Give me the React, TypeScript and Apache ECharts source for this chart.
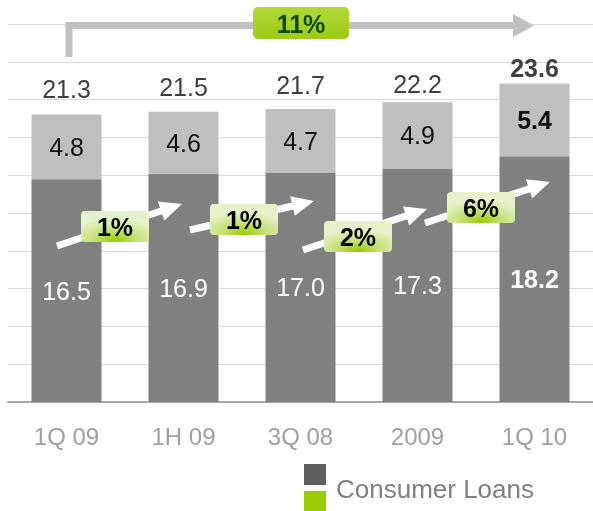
import React, { useEffect, useRef } from "react";
import * as echarts from "echarts";

const categories = ["1Q 09", "1H 09", "3Q 08", "2009", "1Q 10"];
const consumerBase = [16.5, 16.9, 17.0, 17.3, 18.2];
const consumerTop = [4.8, 4.6, 4.7, 4.9, 5.4];
const totals = [21.3, 21.5, 21.7, 22.2, 23.6];
const totalLabelGap = [13, 12, 12, 6, 3];
const growthLabels = ["1%", "1%", "2%", "6%"];
const overallGrowth = "11%";
const legendName = "Consumer Loans";

const FONT = "'Liberation Sans', Arial, sans-serif";

function arrowPoints(t: number[], p: number[]) {
  const dx = p[0] - t[0];
  const dy = p[1] - t[1];
  const len = Math.sqrt(dx * dx + dy * dy);
  const ux = dx / len;
  const uy = dy / len;
  const nx = -uy;
  const ny = ux;
  const w = 3.5;
  const H = 10;
  const L = 22;
  const nk = [p[0] - ux * L, p[1] - uy * L];
  return [
    [t[0] + nx * w, t[1] + ny * w],
    [nk[0] + nx * w, nk[1] + ny * w],
    [nk[0] + nx * H, nk[1] + ny * H],
    [p[0], p[1]],
    [nk[0] - nx * H, nk[1] - ny * H],
    [nk[0] - nx * w, nk[1] - ny * w],
    [t[0] - nx * w, t[1] - ny * w],
  ];
}

const arrowGeom = [
  { t: [57, 246], p: [182, 204], box: [81, 211] },
  { t: [190, 230], p: [314, 201], box: [210, 204] },
  { t: [303, 250], p: [427, 209], box: [324, 221] },
  { t: [425, 223], p: [550, 182], box: [447, 192] },
];

export default function App() {
  const ref = useRef<HTMLDivElement>(null);
  useEffect(() => {
    if (!ref.current) return;
    const chart = echarts.init(ref.current, null, { renderer: "svg" });
    const last = categories.length - 1;

    const graphics: any[] = [];
    graphics.push({
      type: "polyline",
      z: 10,
      shape: { points: [[69, 57], [69, 25.5], [515, 25.5]] },
      style: { stroke: "#c0c0c0", lineWidth: 7, fill: null, lineJoin: "miter" },
    });
    graphics.push({
      type: "polygon",
      z: 10,
      shape: { points: [[513, 14], [534, 25.5], [513, 37]] },
      style: { fill: "#c0c0c0" },
    });
    graphics.push({
      type: "rect",
      z: 11,
      shape: { x: 253, y: 7, width: 96, height: 32, r: 5 },
      style: {
        fill: {
          type: "linear", x: 0, y: 0, x2: 0, y2: 1,
          colorStops: [
            { offset: 0, color: "#b0d83a" },
            { offset: 1, color: "#9ccb14" },
          ],
        },
      },
    });
    graphics.push({
      type: "text",
      z: 12,
      x: 301,
      y: 24,
      style: {
        text: overallGrowth,
        font: `bold 25px ${FONT}`,
        fill: "#0d4a00",
        align: "center",
        verticalAlign: "middle",
      },
    });
    arrowGeom.forEach((g, i) => {
      graphics.push({
        type: "polygon",
        z: 10,
        shape: { points: arrowPoints(g.t, g.p) },
        style: { fill: "#ffffff" },
      });
      graphics.push({
        type: "rect",
        z: 11,
        shape: { x: g.box[0], y: g.box[1], width: 68, height: 31, r: 4 },
        style: {
          fill: {
            type: "radial", x: 0.5, y: 0.95, r: 0.7,
            colorStops: [
              { offset: 0, color: "#99cc00" },
              { offset: 0.45, color: "#c4e176" },
              { offset: 1, color: "#e6f2cc" },
            ],
          },
        },
      });
      graphics.push({
        type: "text",
        z: 12,
        x: g.box[0] + 34,
        y: g.box[1] + 16,
        style: {
          text: growthLabels[i],
          font: `bold 25px ${FONT}`,
          fill: "#000000",
          align: "center",
          verticalAlign: "middle",
        },
      });
    });
    graphics.push({
      type: "rect",
      shape: { x: 304, y: 464, width: 22, height: 21 },
      style: { fill: "#5f5f5f" },
    });
    graphics.push({
      type: "rect",
      shape: { x: 304, y: 491, width: 22, height: 20 },
      style: { fill: "#99cc00" },
    });
    graphics.push({
      type: "text",
      x: 336,
      y: 489,
      style: {
        text: legendName,
        font: `26px ${FONT}`,
        fill: "#808080",
        align: "left",
        verticalAlign: "middle",
      },
    });

    chart.setOption({
      animation: false,
      textStyle: { fontFamily: FONT },
      grid: { left: 8, right: 0, top: 24, bottom: 109, containLabel: false },
      xAxis: {
        type: "category",
        data: categories,
        axisLine: { lineStyle: { color: "#a6a6a6", width: 2 } },
        axisTick: { show: false },
        axisLabel: { fontSize: 24, color: "#a0a0a0", margin: 22, fontFamily: FONT },
      },
      yAxis: {
        type: "value",
        min: 0,
        max: 28,
        interval: 2.8,
        axisLabel: { show: false },
        axisLine: { show: false },
        axisTick: { show: false },
        splitLine: { lineStyle: { color: "#d9d9d9", width: 1 } },
      },
      series: [
        {
          name: legendName,
          type: "bar",
          stack: "loans",
          barWidth: 70,
          itemStyle: { color: "#808080" },
          data: consumerBase.map((v, i) => ({
            value: v,
            label: {
              show: true,
              position: "inside",
              color: "#ffffff",
              fontSize: 25,
              fontWeight: i === last ? "bold" : "normal",
              fontFamily: FONT,
              formatter: () => v.toFixed(1),
            },
          })),
        },
        {
          name: "top",
          type: "bar",
          stack: "loans",
          barWidth: 70,
          itemStyle: { color: "#bfbfbf" },
          data: consumerTop.map((v, i) => ({
            value: v,
            label: {
              show: true,
              position: "inside",
              color: "#111111",
              fontSize: 25,
              fontWeight: i === last ? "bold" : "normal",
              fontFamily: FONT,
              formatter: () => v.toFixed(1),
            },
          })),
        },
        {
          name: "total",
          type: "bar",
          barWidth: 70,
          barGap: "-100%",
          silent: true,
          itemStyle: { color: "rgba(0,0,0,0)" },
          data: totals.map((v, i) => ({
            value: v,
            label: {
              show: true,
              position: "top",
              distance: totalLabelGap[i],
              color: "#404040",
              fontSize: 25,
              fontWeight: i === last ? "bold" : "normal",
              fontFamily: FONT,
              formatter: () => v.toFixed(1),
            },
          })),
        },
      ],
      graphic: graphics,
    });
    return () => chart.dispose();
  }, []);
  return (
    <div
      ref={ref}
      style={{ position: "fixed", left: 0, top: 0, width: 593, height: 511 }}
    />
  );
}
